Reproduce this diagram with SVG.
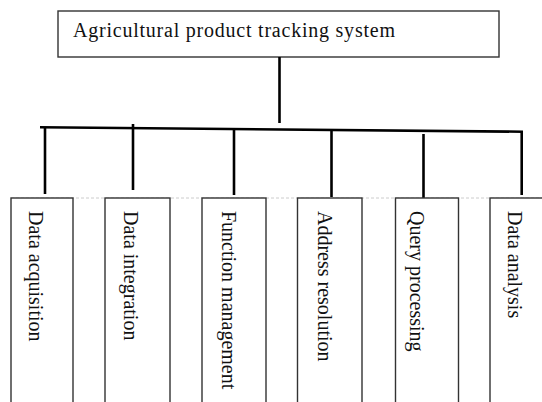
<svg xmlns="http://www.w3.org/2000/svg" width="542" height="402" viewBox="0 0 542 402">
<style>
.box{fill:#fff;stroke:#333;stroke-width:1.4}
.lbl{font-family:"Liberation Serif","Times New Roman",serif;font-size:20px;fill:#111}
.conn{stroke:#000;stroke-width:2.6;fill:none}
.faint{stroke:#ccc;stroke-width:1;stroke-dasharray:3 2;fill:none}
</style>
<rect width="542" height="402" fill="#fff"/>
<line class="faint" x1="11" y1="198" x2="542" y2="198"/>
<g id="root">
<rect class="box" x="58" y="11" width="441" height="46"/>
<text class="lbl" x="73" y="37" font-size="21" textLength="322" lengthAdjust="spacing">Agricultural product tracking system</text>
</g>
<g id="connectors">
<line class="conn" x1="279.5" y1="57" x2="279.5" y2="123"/>
<line class="conn" x1="40" y1="127.3" x2="523" y2="131.7"/>
<line class="conn" x1="45" y1="127.5" x2="45" y2="194"/>
<line class="conn" x1="133" y1="124" x2="133" y2="190"/>
<line class="conn" x1="234" y1="129" x2="234" y2="195"/>
<line class="conn" x1="331.5" y1="130.5" x2="331.5" y2="197"/>
<line class="conn" x1="423.5" y1="134" x2="423.5" y2="199"/>
<line class="conn" x1="521.7" y1="131.5" x2="521.7" y2="195"/>
</g>
<g id="n1">
<rect class="box" x="11" y="198" width="62" height="210"/>
<text class="lbl" transform="translate(28.5,211) rotate(90)">Data acquisition</text>
</g>
<g id="n2">
<rect class="box" x="105" y="198" width="65" height="210"/>
<text class="lbl" transform="translate(124,211) rotate(90)">Data integration</text>
</g>
<g id="n3">
<rect class="box" x="202" y="198" width="64" height="210"/>
<text class="lbl" transform="translate(221.7,211) rotate(90)">Function management</text>
</g>
<g id="n4">
<rect class="box" x="297.5" y="198" width="64.5" height="210"/>
<text class="lbl" transform="translate(318.3,211) rotate(90)">Address resolution</text>
</g>
<g id="n5">
<rect class="box" x="395.5" y="198" width="63" height="210"/>
<text class="lbl" transform="translate(410,211) rotate(90)">Query processing</text>
</g>
<g id="n6">
<rect class="box" x="490" y="198" width="70" height="210"/>
<text class="lbl" transform="translate(508.3,211) rotate(90)">Data analysis</text>
</g>
</svg>
